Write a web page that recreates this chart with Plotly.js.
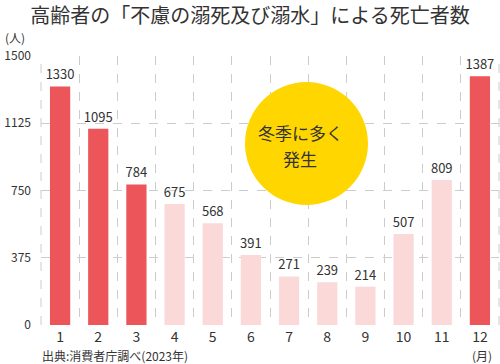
<!DOCTYPE html>
<html><head><meta charset="utf-8">
<script src="https://cdn.plot.ly/plotly-3.0.1.min.js"></script>
<style>html,body{margin:0;padding:0;background:#fff}</style>
</head><body><div id="chart" style="width:500px;height:364px"></div>
<script>
const months = ["1","2","3","4","5","6","7","8","9","10","11","12"];
const deaths = [1330,1095,784,675,568,391,271,239,214,507,809,1387];
const winter = [true,true,true,false,false,false,false,false,false,false,false,true];
const yTicks = [0,375,750,1125,1500];

const RED = "#ec555a", PINK = "#fbd9d9";
const FONT = "Noto Sans CJK JP, Noto Sans, sans-serif";

const trace = {
  type: "bar",
  x: months,
  y: deaths,
  width: 0.53,
  marker: {color: winter.map(w => w ? RED : PINK)},
  text: deaths.map(String),
  textposition: "outside",
  constraintext: "none",
  textfont: {size: 13, color: "#333", family: FONT},
  cliponaxis: false,
  hoverinfo: "none"
};

const px = x => (x - 41) / 458;
const py = y => (325 - y) / 269;

const layout = {
  width: 500, height: 364,
  margin: {l: 41, r: 1, t: 56, b: 39},
  paper_bgcolor: "#fff", plot_bgcolor: "#fff",
  font: {family: FONT, color: "#333"},
  showlegend: false,
  title: {text: "高齢者の「不慮の溺死及び溺水」による死亡者数", x: 0.5, xanchor: "center", y: 1 - 16/364, yanchor: "middle", font: {size: 20, color: "#333", family: FONT}},
  xaxis: {
    type: "category",
    tickson: "boundaries",
    showgrid: true, gridcolor: "#cccccc", griddash: "dash", gridwidth: 1,
    ticks: "", zeroline: false, showline: false,
    tickfont: {size: 14, color: "#333"},
    ticklabelstandoff: 2,
    range: [-0.5, 11.5],
    fixedrange: true
  },
  yaxis: {
    range: [0, 1500],
    tickvals: yTicks, ticktext: yTicks.map(String),
    showgrid: true, gridcolor: "#cccccc", griddash: "dash", gridwidth: 1,
    zeroline: false, showline: false, ticks: "",
    tickfont: {size: 12, color: "#333"},
    ticklabelstandoff: 9,
    fixedrange: true
  },
  shapes: [
    {type: "line", xref: "paper", yref: "paper", x0: 0, x1: 0, y0: 0, y1: 1, line: {color: "#cccccc", width: 1, dash: "dash"}},
    {type: "line", xref: "paper", yref: "paper", x0: 1, x1: 1, y0: 0, y1: 1, line: {color: "#cccccc", width: 1, dash: "dash"}},
    {type: "circle", xref: "paper", yref: "paper",
     x0: px(245), x1: px(368), y0: py(205), y1: py(82),
     fillcolor: "#ffd600", line: {width: 0}, layer: "above"}
  ],
  annotations: [
    {text: "冬季に多く", xref: "paper", yref: "paper", x: px(300), y: py(132), xanchor: "center", yanchor: "middle",
     showarrow: false, font: {size: 17, color: "#333", family: FONT}},
    {text: "発生", xref: "paper", yref: "paper", x: px(300), y: py(158), xanchor: "center", yanchor: "middle",
     showarrow: false, font: {size: 17, color: "#333", family: FONT}},
    {text: "(人)", xref: "paper", yref: "paper", x: px(3), y: py(37), xanchor: "left", yanchor: "middle",
     showarrow: false, font: {size: 12, color: "#333"}},
    {text: "出典:消費者庁調べ(2023年)", xref: "paper", yref: "paper", x: px(40), y: py(355), xanchor: "left", yanchor: "middle",
     showarrow: false, font: {size: 12, color: "#333"}},
    {text: "(月)", xref: "paper", yref: "paper", x: px(482), y: py(355), xanchor: "center", yanchor: "middle",
     showarrow: false, font: {size: 12, color: "#333"}}
  ]
};

Plotly.newPlot("chart", [trace], layout, {displayModeBar: false, staticPlot: true});
</script></body></html>
